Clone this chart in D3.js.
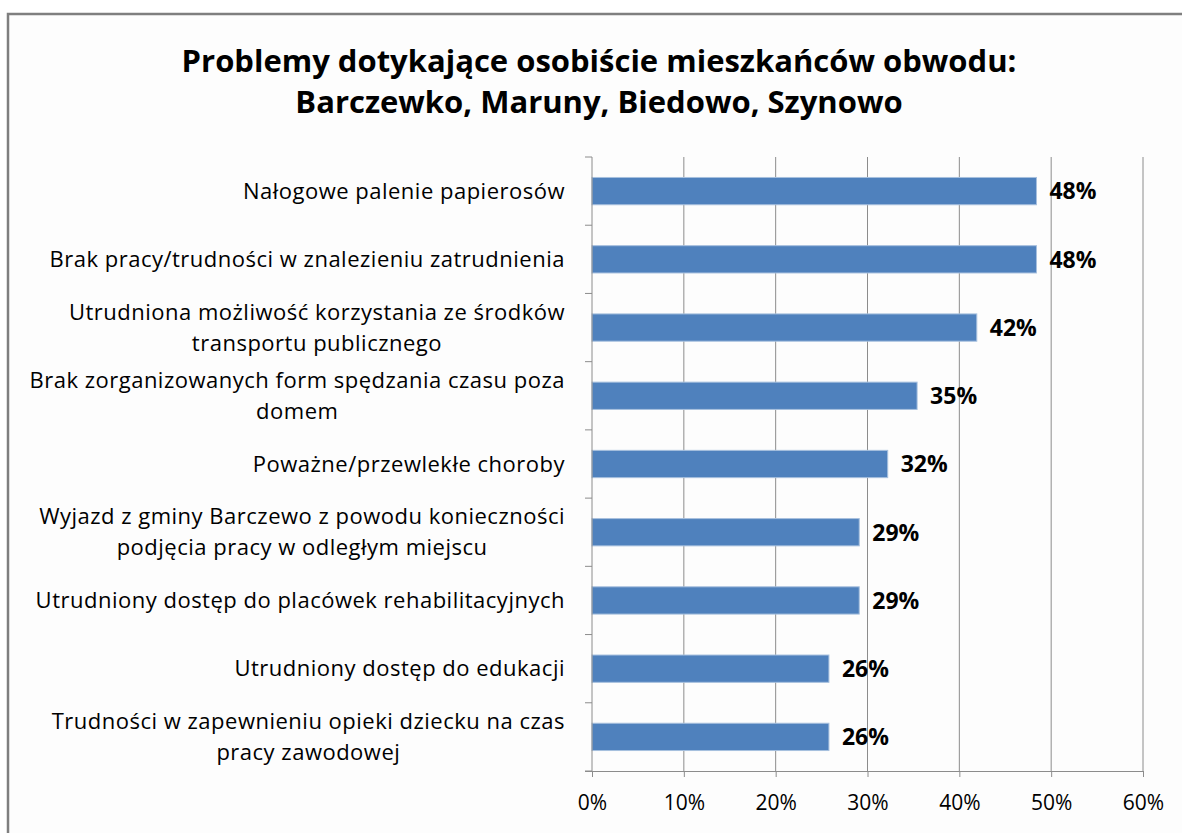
<!DOCTYPE html>
<html>
<head>
<meta charset="utf-8">
<script src="https://cdn.jsdelivr.net/npm/d3@7"></script>
<style>
  body { margin: 0; background: #fff; }
  svg { display: block; font-family: "Open Sans", Lato, sans-serif; }
</style>
</head>
<body>
<div id="chart"></div>
<script>
var width = 1182,
    height = 833;

var titleLines = ["Problemy dotykające osobiście mieszkańców obwodu:", "Barczewko, Maruny, Biedowo, Szynowo"];

// each label is split into the lines seen in the picture
var categories = [
  ["Nałogowe palenie papierosów"],
  ["Brak pracy/trudności w znalezieniu zatrudnienia"],
  ["Utrudniona możliwość korzystania ze środków", "transportu publicznego"],
  ["Brak zorganizowanych form spędzania czasu poza", "domem"],
  ["Poważne/przewlekłe choroby"],
  ["Wyjazd z gminy Barczewo z powodu konieczności", "podjęcia pracy w odległym miejscu"],
  ["Utrudniony dostęp do placówek rehabilitacyjnych"],
  ["Utrudniony dostęp do edukacji"],
  ["Trudności w zapewnieniu opieki dziecku na czas", "pracy zawodowej"]
];
var values = [48.4, 48.4, 41.9, 35.4, 32.2, 29.1, 29.1, 25.8, 25.8];
var xTicks = [0, 10, 20, 30, 40, 50, 60];

var margin = {top: 157, right: 39, bottom: 62, left: 592};
var plotW = width - margin.left - margin.right,
    plotH = height - margin.top - margin.bottom;

var svg = d3.select("#chart")
  .append("svg")
  .attr("width", width)
  .attr("height", height);

// background + frame
svg.append("rect")
  .attr("x", 0).attr("y", 0)
  .attr("width", width).attr("height", height)
  .attr("fill", "#ffffff");
svg.append("rect")
  .attr("x", 8).attr("y", 14)
  .attr("width", width + 20).attr("height", height + 20)
  .attr("fill", "#fdfdfd")
  .attr("stroke", "#7f7f7f")
  .attr("stroke-width", 2.5);

// title
svg.append("text")
  .attr("x", 599)
  .attr("y", 72)
  .attr("text-anchor", "middle")
  .attr("font-size", 31)
  .attr("font-weight", "bold")
  .attr("fill", "#000")
  .selectAll("tspan")
  .data(titleLines)
  .enter().append("tspan")
  .attr("x", 599)
  .attr("dy", function(d, i) { return i === 0 ? 0 : 41; })
  .text(function(d) { return d; });

var g = svg.append("g")
  .attr("transform", "translate(" + margin.left + "," + margin.top + ")");

var xScale = d3.scaleLinear()
  .domain([0, 60])
  .range([0, plotW]);

var yScale = d3.scaleBand()
  .domain(d3.range(categories.length))
  .range([0, plotH])
  .paddingInner(0.6)
  .paddingOuter(0.3);

// gridlines
g.selectAll(".grid")
  .data(xTicks.slice(1))
  .enter().append("line")
  .attr("x1", function(d) { return xScale(d); })
  .attr("x2", function(d) { return xScale(d); })
  .attr("y1", 0)
  .attr("y2", plotH)
  .attr("stroke", "#8c8c8c")
  .attr("stroke-width", 1);

// bars
g.selectAll(".bar")
  .data(values)
  .enter().append("rect")
  .attr("x", 0)
  .attr("y", function(d, i) { return yScale(i); })
  .attr("width", function(d) { return xScale(d); })
  .attr("height", yScale.bandwidth())
  .attr("fill", "#4f81bd")
  .attr("stroke", "#a7c0de")
  .attr("stroke-width", 1);

// value labels
g.selectAll(".val")
  .data(values)
  .enter().append("text")
  .attr("x", function(d) { return xScale(d) + 13; })
  .attr("y", function(d, i) { return yScale(i) + yScale.bandwidth() / 2; })
  .attr("dy", "0.36em")
  .attr("font-size", 23)
  .attr("font-weight", "bold")
  .attr("fill", "#000")
  .text(function(d) { return Math.round(d) + "%"; });

// x axis
var xAxis = d3.axisBottom(xScale)
  .tickValues(xTicks)
  .tickSize(6)
  .tickFormat(function(d) { return d + "%"; });

var xg = g.append("g")
  .attr("transform", "translate(0," + plotH + ")")
  .call(xAxis);
xg.select(".domain").attr("stroke", "#8c8c8c").attr("d", "M-7,0.5H" + plotW);
xg.selectAll(".tick line").attr("stroke", "#8c8c8c");
xg.selectAll(".tick text")
  .attr("font-size", 21)
  .attr("font-family", "'Open Sans', sans-serif")
  .attr("fill", "#000")
  .attr("y", 24);

// y axis line and ticks between categories
var step = yScale.step();
var yStart = yScale(0) - step * yScale.paddingInner() / 2;
g.append("line")
  .attr("x1", 0).attr("x2", 0)
  .attr("y1", 0).attr("y2", plotH)
  .attr("stroke", "#8c8c8c");
g.selectAll(".ytick")
  .data(d3.range(categories.length + 1))
  .enter().append("line")
  .attr("x1", -7).attr("x2", 0)
  .attr("y1", function(d) { return d === 0 ? 0 : (d === categories.length ? plotH : yStart + d * step); })
  .attr("y2", function(d) { return d === 0 ? 0 : (d === categories.length ? plotH : yStart + d * step); })
  .attr("stroke", "#8c8c8c");

// category labels: block right-aligned, lines centred within block
var lineH = 31;
var labels = g.selectAll(".cat")
  .data(categories)
  .enter().append("g")
  .attr("transform", function(d, i) {
    return "translate(0," + (yScale(i) + yScale.bandwidth() / 2) + ")";
  });

labels.each(function(lines) {
  var sel = d3.select(this);
  var texts = sel.selectAll("text")
    .data(lines)
    .enter().append("text")
    .attr("font-size", 22)
    .attr("letter-spacing", 0.5)
    .attr("fill", "#000")
    .attr("text-anchor", "middle")
    .attr("y", function(d, i) { return (i - (lines.length - 1) / 2) * lineH; })
    .attr("dy", "0.35em")
    .text(function(d) { return d; });
  var maxW = 0;
  texts.each(function() { maxW = Math.max(maxW, this.getComputedTextLength()); });
  texts.attr("x", -27 - maxW / 2);
});
</script>
</body>
</html>
